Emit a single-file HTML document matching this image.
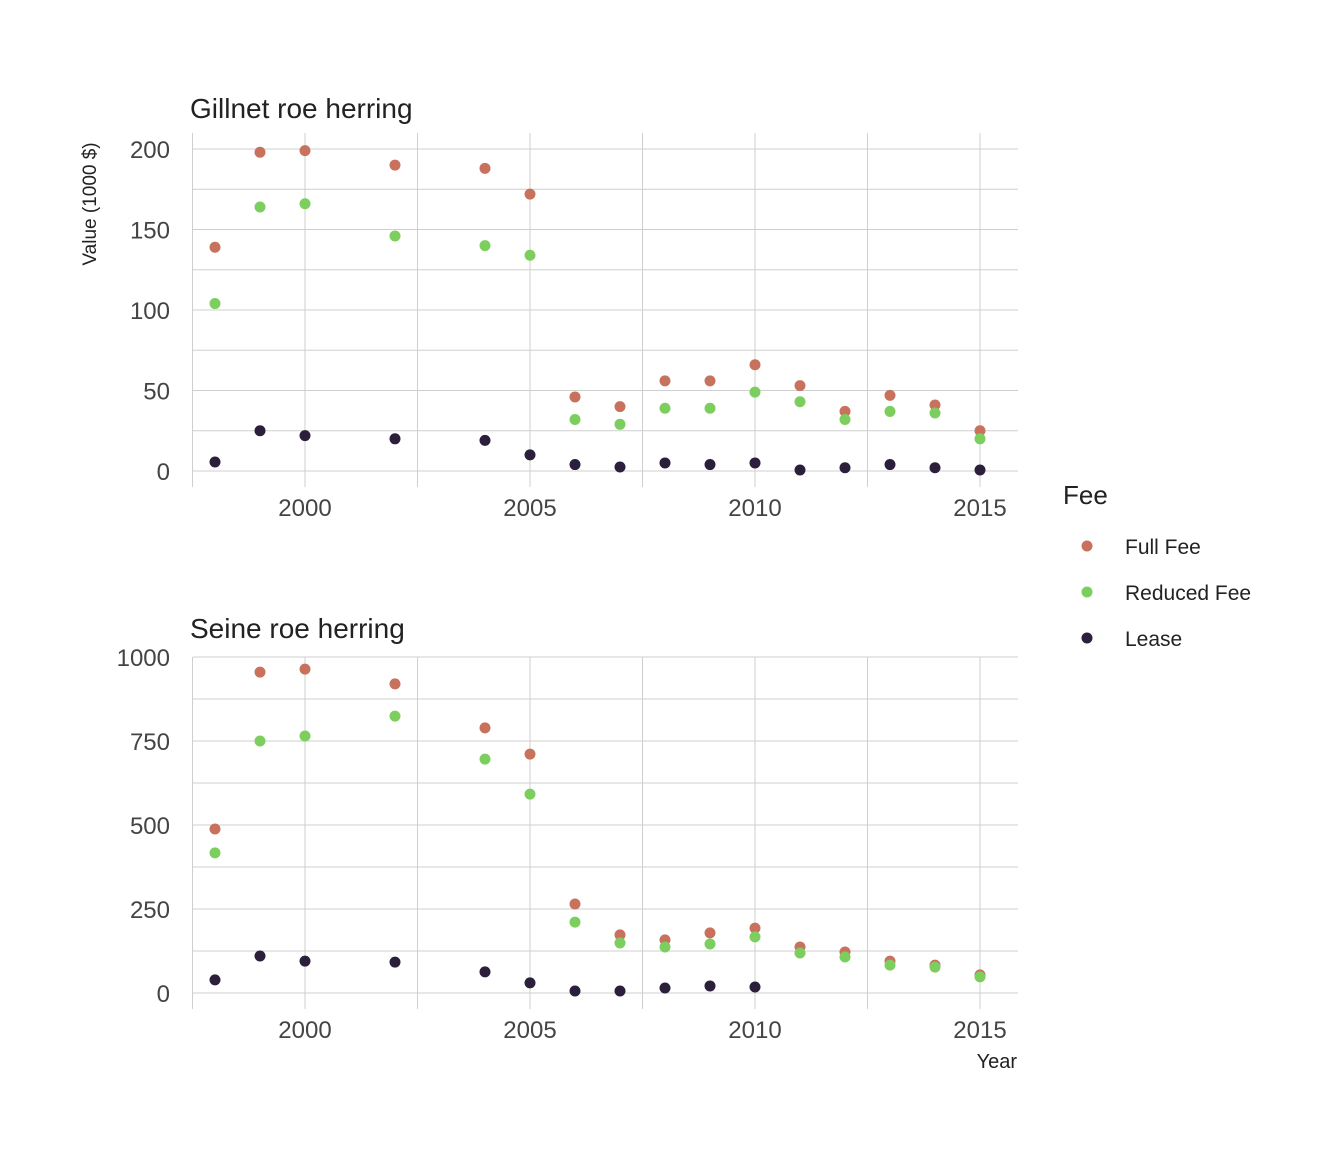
<!DOCTYPE html>
<html><head><meta charset="utf-8"><style>
body{margin:0;background:#fff}
svg text{font-family:"Liberation Sans Narrow","Liberation Sans",sans-serif}
</style></head><body>
<svg id="chart" width="1344" height="1152"></svg>
<script>
const years=[1998,1999,2000,2002,2004,2005,2006,2007,2008,2009,2010,2011,2012,2013,2014,2015];
const gillFull=[139,198,199,190,188,172,46,40,56,56,66,53,37,47,41,25];
const gillReduced=[104,164,166,146,140,134,32,29,39,39,49,43,32,37,36,20];
const gillLease=[5.6,25,22,20,19,10,4,2.5,5,4,5,0.6,2,4,2,0.6];
const seineFull=[488,955,964,920,789,711,265,173,158,179,193,137,122,95,83,54];
const seineReduced=[417,750,765,824,696,592,211,149,137,146,167,119,107,83,77,48];
const seineLease=[39,110,95,92,63,30,6,6,15,21,18,null,null,null,null,null];
const xTicks=[2000,2005,2010,2015];
const gillTicks=[0,50,100,150,200];
const seineTicks=[0,250,500,750,1000];
const seriesNames=["Full Fee","Reduced Fee","Lease"];
const colors=["#c8725e","#7ccf5e","#2b1f3b"];
const NS="http://www.w3.org/2000/svg";
const svg=document.getElementById('chart');
function mk(t,a,p){const e=document.createElementNS(NS,t);for(const k in a)e.setAttribute(k,a[k]);(p||svg).appendChild(e);return e;}
const x=y=>305+(y-2000)*45;
function panel(name,title,y0,ytopPx,ticks,data,gridTop,titleY){
  const g=mk('g',{});
  
  
  const top=ticks[ticks.length-1];
  const y=v=>y0-(y0-ytopPx)*v/top;
  const step=ticks[1]-ticks[0];
  const yBot=y(0)+16;
  for(let v=0;v<=top+step/2;v+=step/2){if(y(v)<gridTop-1)continue;
    mk('line',{x1:193,x2:1018,y1:y(v),y2:y(v),stroke:'#cfcfcf','stroke-width':1},g);}
  for(let yr=1997.5;yr<=2016;yr+=2.5){
    mk('line',{x1:x(yr),x2:x(yr),y1:gridTop,y2:yBot,stroke:'#cfcfcf','stroke-width':1},g);}
  ticks.forEach(v=>{const t=mk('text',{x:170,y:y(v)+9,'text-anchor':'end','font-size':24,fill:'#444'},g);t.textContent=v;
    });
  xTicks.forEach(v=>{const t=mk('text',{x:x(v),y:y(0)+45,'text-anchor':'middle','font-size':24,fill:'#444'},g);t.textContent=v;
    });
  const tt=mk('text',{x:190,y:titleY,'font-size':28,fill:'#222'},g);tt.textContent=title;
  
  data.forEach((arr,si)=>arr.forEach((v,i)=>{if(v==null)return;
    const c=mk('circle',{cx:x(years[i]),cy:y(v),r:5.5,fill:colors[si]},g);
    
    }));
}
panel('gillnet-panel','Gillnet roe herring',471,149,gillTicks,[gillFull,gillReduced,gillLease],133,118);
panel('seine-panel','Seine roe herring',993,657,seineTicks,[seineFull,seineReduced,seineLease],657,638);
const yt=mk('text',{x:0,y:0,'font-size':19,fill:'#222','text-anchor':'middle',transform:'translate(96,204) rotate(-90)'});
yt.textContent='Value (1000 $)';

const xt=mk('text',{x:1017,y:1068,'font-size':20,fill:'#222','text-anchor':'end'});
xt.textContent='Year';

const lt=mk('text',{x:1063,y:504,'font-size':26,fill:'#222'});
lt.textContent='Fee';

seriesNames.forEach((n,i)=>{
  const cy=546+i*46;
  const c=mk('circle',{cx:1087,cy:cy,r:5.5,fill:colors[i]});
  
  const t=mk('text',{x:1125,y:cy+8,'font-size':21,fill:'#222'});t.textContent=n;
  
});
</script>
</body></html>
